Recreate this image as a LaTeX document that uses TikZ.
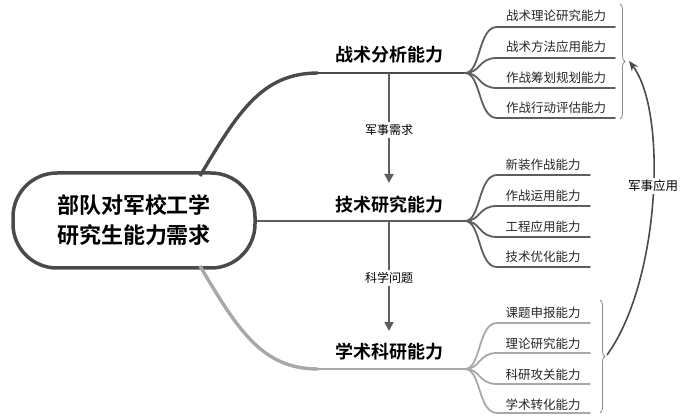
\documentclass[tikz,border=0pt]{standalone}
\usepackage{fontspec}
\newfontfamily\cjk{Noto Sans CJK SC}[BoldFont={* Bold}]
\usetikzlibrary{arrows.meta,decorations.pathreplacing}
\definecolor{cA}{HTML}{4A4A4A}
\definecolor{cB}{HTML}{5E5E5E}
\definecolor{cC}{HTML}{A8A8A8}
\begin{document}
\begin{tikzpicture}[x=1pt,y=-1pt,
  rootbox/.style={draw=cA, line width=3.5pt, rounded corners=44pt, minimum width=242pt, minimum height=95pt, align=center, inner sep=0pt, font=\cjk\bfseries\fontsize{22}{30}\selectfont},
  mainlab/.style={inner sep=1pt, font=\cjk\bfseries\fontsize{18}{20}\selectfont},
  sublab/.style={inner sep=1pt, text=black!85, font=\cjk\fontsize{12.5}{14}\selectfont},
  rellab/.style={fill=white, inner sep=2pt, font=\cjk\fontsize{12}{14}\selectfont},
  subline/.style={line width=1.8pt, line cap=round},
  varrow/.style={draw=cB, line width=1.8pt, -{Triangle[width=9pt,length=9pt]}},
  bracestyle/.style={draw=black!45, line width=0.8pt, decorate, decoration={brace, amplitude=5pt}}
]
\useasboundingbox (0,0) rectangle (681,417);

% root
\node[rootbox] (root) at (134,220.5) {部队对军校工学\\研究生能力需求};

% coordinates
\coordinate (r1) at (200,176);
\coordinate (r3) at (200,266);
\coordinate (k1) at (318,73);
\coordinate (k3) at (318,369);
\coordinate (f1) at (465,73);
\coordinate (f2) at (465,221);
\coordinate (f3) at (465,369);

% main branches
\draw[cA, line width=3.4pt] (r1) .. controls (238,112) and (262,73) .. (k1);
\draw[cA, line width=2.2pt] (k1) -- (f1);
\draw[cB, line width=2.6pt] (root.east |- f2) -- (f2);
\draw[cC, line width=3.4pt] (r3) .. controls (238,330) and (262,369) .. (k3);
\draw[cC, line width=2.2pt] (k3) -- (f3);

% main labels
\node[mainlab] (m1) at (389,55) {战术分析能力};
\node[mainlab] (m2) at (389,205) {技术研究能力};
\node[mainlab] (m3) at (389,352) {学术科研能力};

% sub branches
\foreach \y in {27,58,88,118}{
  \draw[subline, cB] (f1) .. controls (481,73) and (478,\y) .. (497,\y) -- (615,\y);
}
\foreach \y in {175,206,237,267}{
  \draw[subline, cB] (f2) .. controls (481,221) and (478,\y) .. (497,\y) -- (590,\y);
}
\foreach \y in {323,353,384,413}{
  \draw[subline, cC] (f3) .. controls (481,369) and (478,\y) .. (497,\y) -- (590,\y);
}

% sub labels
\node[sublab] (a1) at (556,16) {战术理论研究能力};
\node[sublab] (a2) at (556,47) {战术方法应用能力};
\node[sublab] (a3) at (556,78) {作战筹划规划能力};
\node[sublab] (a4) at (556,108) {作战行动评估能力};
\node[sublab] (b1) at (543,165) {新装作战能力};
\node[sublab] (b2) at (543,196) {作战运用能力};
\node[sublab] (b3) at (543,227) {工程应用能力};
\node[sublab] (b4) at (543,257) {技术优化能力};
\node[sublab] (c1) at (543,313) {课题申报能力};
\node[sublab] (c2) at (543,344) {理论研究能力};
\node[sublab] (c3) at (543,375) {科研攻关能力};
\node[sublab] (c4) at (543,405) {学术转化能力};

% vertical arrows
\coordinate (v1) at (389,73);
\coordinate (v1e) at (389,183);
\coordinate (v2) at (389,221);
\coordinate (v2e) at (389,331);
\draw[varrow] (v1) -- (v1e);
\draw[varrow] (v2) -- (v2e);
\node[rellab] (q1) at (389,130) {军事需求};
\node[rellab] (q2) at (389,278) {科学问题};

% braces
\draw[bracestyle] (620,4) -- (620,119);
\draw[bracestyle] (600,300) -- (600,413);
\coordinate (bt) at (629,61);
\coordinate (bb) at (607,355);

% military application arrow
\draw[cA, line width=1.6pt, -{Stealth[width=8pt,length=10pt]}] (bb) .. controls (660,282) and (668,112) .. (bt);
\node[rellab, font=\cjk\fontsize{12.5}{14}\selectfont] (q3) at (653,186) {军事应用};
\end{tikzpicture}
\end{document}
